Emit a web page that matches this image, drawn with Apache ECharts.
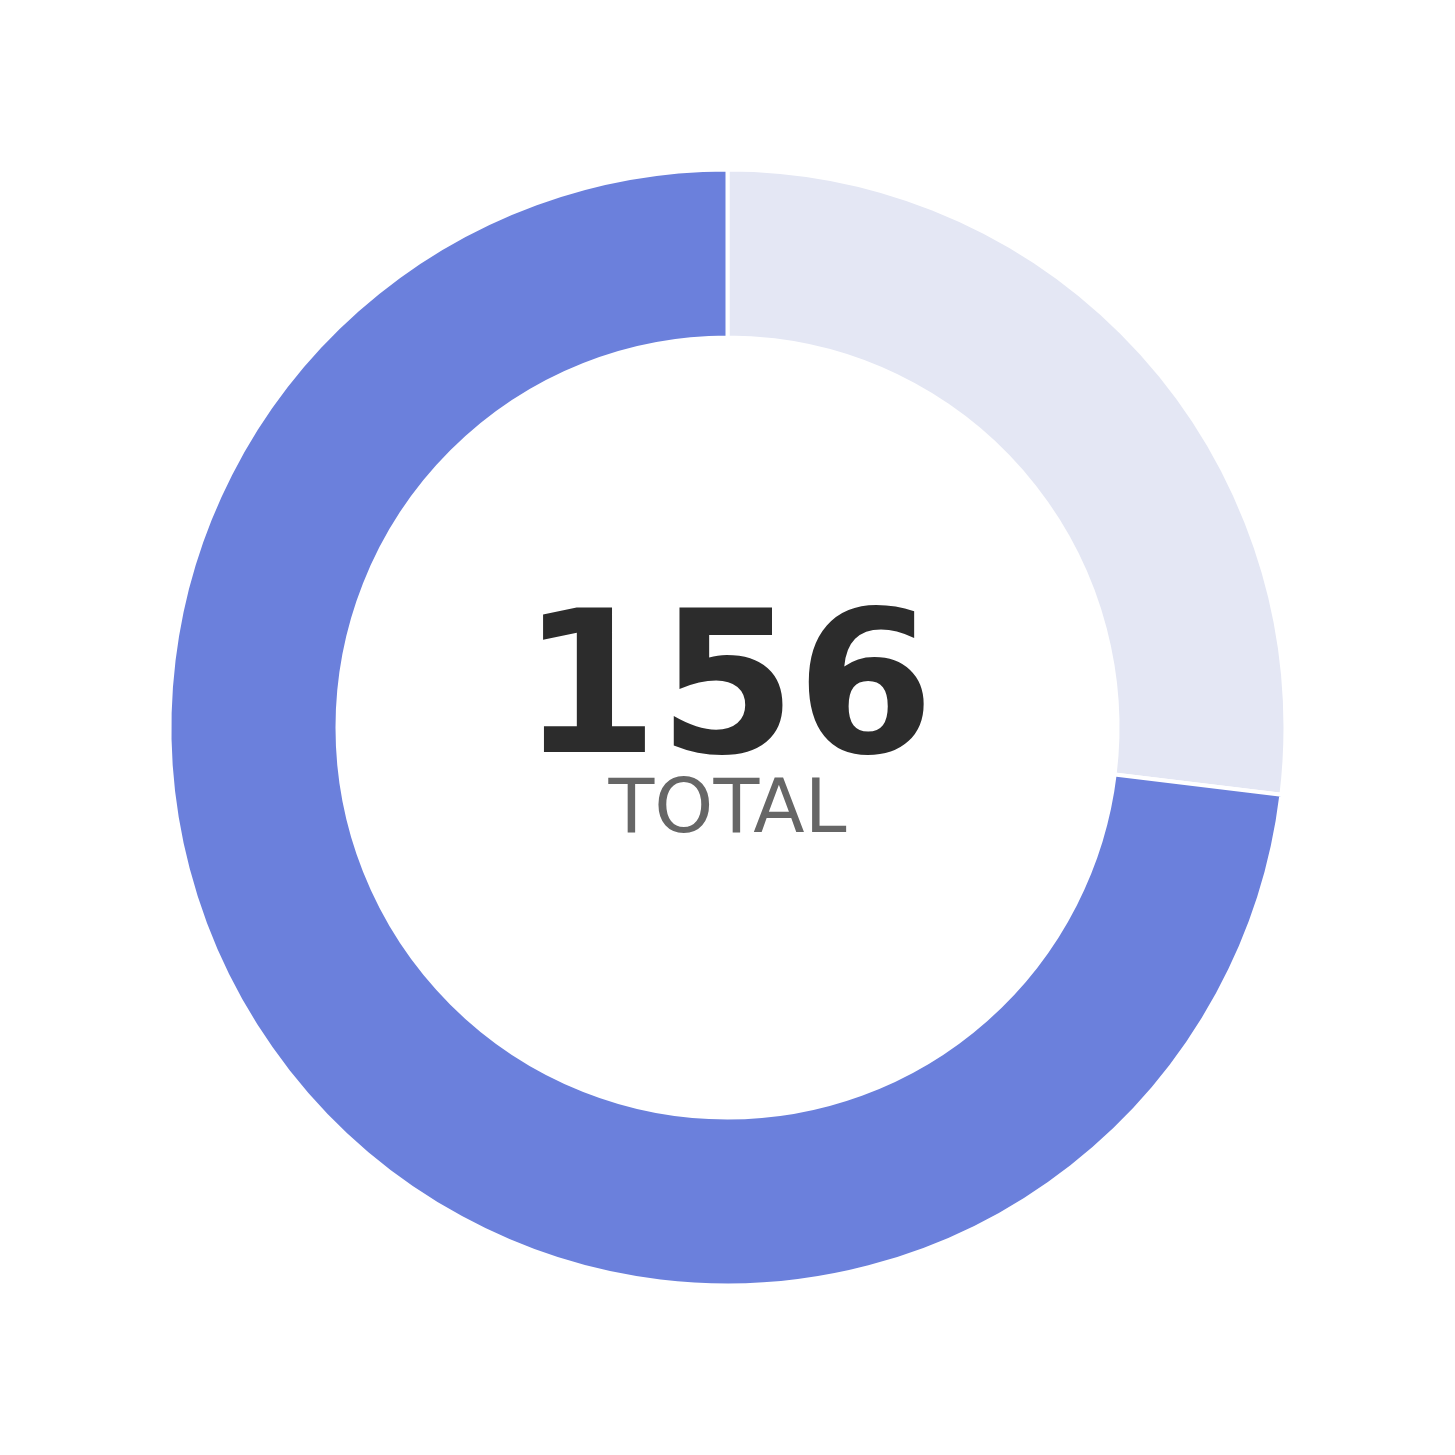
<!DOCTYPE html>
<html>
<head>
<meta charset="utf-8">
<script src="https://cdn.jsdelivr.net/npm/echarts@6/dist/echarts.min.js"></script>
<style>html,body{margin:0;padding:0;background:#fff;}#c{width:1455px;height:1455px;}</style>
</head>
<body>
<div id="c"></div>
<script>
const categories = ['Other', 'Main'];
const values = [42, 114];
const colors = ['#e4e7f4', '#6b80dc'];
const totalLabel = 'TOTAL';
const total = values.reduce((a, b) => a + b, 0);

const chart = echarts.init(document.getElementById('c'), null, {renderer: 'canvas'});
chart.setOption({
  backgroundColor: '#ffffff',
  animation: false,
  series: [{
    type: 'pie',
    center: ['50%', '50%'],
    radius: [390, 558],
    startAngle: 90,
    clockwise: true,
    label: {show: false},
    labelLine: {show: false},
    itemStyle: {borderColor: '#ffffff', borderWidth: 4},
    data: categories.map((c, i) => ({name: c, value: values[i], itemStyle: {color: colors[i]}}))
  }],
  graphic: [
    {type: 'text', left: 'center', top: 602,
     style: {text: String(total), font: 'bold 198px "DejaVu Sans"', fill: '#2c2c2c'}},
    {type: 'text', left: 'center', top: 775,
     style: {text: totalLabel, font: '75px "DejaVu Sans"', fill: '#666666'}}
  ]
});
</script>
</body>
</html>
